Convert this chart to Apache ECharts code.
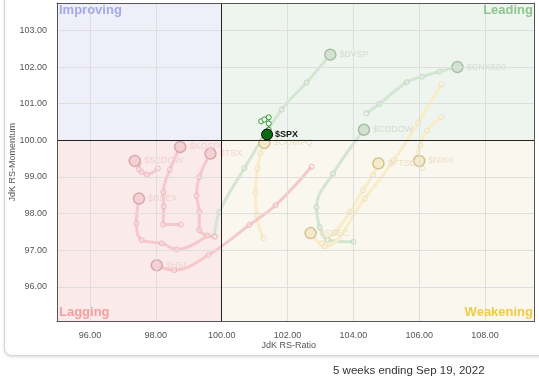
<!DOCTYPE html>
<html>
<head>
<meta charset="utf-8">
<script src="https://cdn.jsdelivr.net/npm/echarts@6/dist/echarts.min.js"></script>
<style>html,body{margin:0;padding:0;background:#fff;}#c{width:539px;height:383px;}</style>
</head>
<body>
<div id="c"></div>
<script>
// ---- data (JdK RS-Ratio, JdK RS-Momentum), oldest -> newest (head last) ----
const xTicks = [96, 98, 100, 102, 104, 106, 108];
const yTicks = [96, 97, 98, 99, 100, 101, 102, 103];

const spxRatio = [101.20, 101.30, 101.43, 101.43, 101.43, 101.38];
const spxMom   = [100.52, 100.57, 100.63, 100.46, 100.29, 100.16];

const bvspRatio = [99.78, 99.93, 100.69, 101.82, 102.58, 103.30];
const bvspMom   = [97.38, 98.04, 99.24, 100.84, 101.58, 102.34];

const cnxRatio = [104.40, 104.79, 105.62, 106.08, 106.62, 107.16];
const cnxMom   = [100.74, 101.00, 101.59, 101.74, 101.88, 102.00];

const cddowRatio = [104.00, 103.22, 102.98, 102.88, 103.38, 104.32];
const cddowMom   = [97.23, 97.28, 97.63, 98.18, 99.09, 100.29];

const ssecRatio = [106.67, 105.97, 105.23, 104.35, 103.13, 102.70];
const ssecMom   = [101.53, 100.49, 99.46, 98.42, 97.11, 97.47];

const nikkRatio = [106.67, 106.24, 106.03, 105.91, 106.09, 106.00];
const nikkMom   = [100.63, 100.27, 99.86, 99.51, 99.24, 99.44];

const ftseRatio = [103.04, 103.44, 103.89, 104.29, 104.59, 104.76];
const ftseMom   = [97.19, 97.49, 98.04, 98.64, 99.05, 99.37];

const compqRatio = [101.27, 101.06, 101.03, 101.09, 101.18, 101.30];
const compqMom   = [97.33, 97.96, 98.58, 99.24, 99.65, 99.93];

const kospiRatio = [98.76, 98.22, 98.24, 98.23, 98.43, 98.74];
const kospiMom   = [97.70, 97.70, 98.20, 98.59, 99.20, 99.82];

const tsxRatio = [99.79, 99.32, 99.32, 99.24, 99.32, 99.66];
const tsxMom   = [97.37, 97.55, 98.05, 98.49, 99.00, 99.64];

const sedowRatio = [98.06, 97.73, 97.57, 97.48, 97.48, 97.36];
const sedowMom   = [99.23, 99.07, 99.14, 99.21, 99.37, 99.44];

const bsexRatio = [99.57, 98.64, 98.18, 97.57, 97.41, 97.49];
const bsexMom   = [97.40, 97.02, 97.19, 97.28, 97.73, 98.41];

const hsiRatio = [102.73, 101.64, 100.84, 99.60, 98.56, 98.03];
const hsiMom   = [99.28, 98.23, 97.69, 96.87, 96.46, 96.59];

const faded = [
  {name: '$BVSP',  r: bvspRatio,  m: bvspMom,  q: 'lead'},
  {name: '$CNX500',r: cnxRatio,   m: cnxMom,   q: 'lead'},
  {name: '$CDDOW', r: cddowRatio, m: cddowMom, q: 'lead'},
  {name: '$SSEC',  r: ssecRatio,  m: ssecMom,  q: 'weak'},
  {name: '$NIKK',  r: nikkRatio,  m: nikkMom,  q: 'weak'},
  {name: '$FTSE',  r: ftseRatio,  m: ftseMom,  q: 'weak'},
  {name: '$COMPQ', r: compqRatio, m: compqMom, q: 'weak'},
  {name: '$KOSPI', r: kospiRatio, m: kospiMom, q: 'lag'},
  {name: '$TSX',   r: tsxRatio,   m: tsxMom,   q: 'lag'},
  {name: '$SEDOW', r: sedowRatio, m: sedowMom, q: 'lag'},
  {name: '$BSEX',  r: bsexRatio,  m: bsexMom,  q: 'lag'},
  {name: '$HSI',   r: hsiRatio,   m: hsiMom,   q: 'lag'}
];

const pal = {
  lead: {line: '#d3e6d1', dot: '#c3d8c1', headFill: '#d2e2d1', headBorder: '#a8bda8', label: '#cfdecf'},
  weak: {line: '#f9ecc6', dot: '#eee2b9', headFill: '#f5eacb', headBorder: '#d3c190', label: '#ebe0c2'},
  lag:  {line: '#f6c8cb', dot: '#efb8bd', headFill: '#f4d0d3', headBorder: '#d9a7ad', label: '#f2cfd0'}
};

function buildData(r, m, head) {
  return r.map((x, i) => {
    const it = {value: [x, m[i]]};
    if (i === r.length - 1) Object.assign(it, head);
    return it;
  });
}

const series = [];
const gridLines = [];
xTicks.forEach(v => { if (v !== 100) gridLines.push({xAxis: v}); });
yTicks.forEach(v => { if (v !== 100) gridLines.push({yAxis: v}); });
series.push({
  type: 'line', data: [], silent: true, z: 1,
  markArea: {
    silent: true,
    data: [
      [{coord: [95, 100], itemStyle: {color: '#eeeff9'}}, {coord: [100, 103.75]}],
      [{coord: [100, 100], itemStyle: {color: '#eef4ee'}}, {coord: [109.5, 103.75]}],
      [{coord: [95, 95.05], itemStyle: {color: '#fbeaea'}}, {coord: [100, 100]}],
      [{coord: [100, 95.05], itemStyle: {color: '#faf7ef'}}, {coord: [109.5, 100]}]
    ]
  },
  markLine: {
    silent: true, symbol: ['none', 'none'], label: {show: false}, animation: false,
    lineStyle: {color: '#dedede', width: 1, type: 'solid'},
    data: gridLines
  }
});
series.push({
  type: 'line', data: [], silent: true, z: 3,
  markLine: {
    silent: true, symbol: ['none', 'none'], label: {show: false}, animation: false,
    lineStyle: {color: '#222', width: 1, type: 'solid'},
    data: [{xAxis: 100}, {yAxis: 100}]
  }
});

faded.forEach(s => {
  const p = pal[s.q];
  series.push({
    type: 'line', name: s.name, smooth: 0.4, z: 4, silent: true,
    symbol: 'circle', symbolSize: 5, showAllSymbol: true,
    lineStyle: {color: p.line, width: 3},
    itemStyle: {color: 'rgba(255,255,255,0.25)', borderColor: p.dot, borderWidth: 1},
    data: buildData(s.r, s.m, {
      symbolSize: 11,
      itemStyle: {color: p.headFill, borderColor: p.headBorder, borderWidth: 1.5},
      label: {show: true, position: 'right', distance: 3, formatter: s.name,
              color: p.label, fontSize: 9, fontFamily: 'Liberation Sans, Arial, sans-serif'}
    })
  });
});

series.push({
  type: 'line', name: '$SPX', smooth: 0.4, z: 10, silent: true,
  symbol: 'circle', symbolSize: 5, showAllSymbol: true,
  lineStyle: {color: '#2f9a2f', width: 1},
  itemStyle: {color: '#ffffff', borderColor: '#2f9a2f', borderWidth: 1},
  data: buildData(spxRatio, spxMom, {
    symbolSize: 11,
    itemStyle: {color: '#0a6a12', borderColor: '#000', borderWidth: 1},
    label: {show: true, position: 'right', distance: 2, formatter: '$SPX',
            color: '#111', fontSize: 9, fontWeight: 'bold', fontFamily: 'Liberation Sans, Arial, sans-serif'}
  })
});

const font = 'Liberation Sans, Arial, sans-serif';
const axisLbl = {color: '#555', fontSize: 9, fontFamily: font};

const chart = echarts.init(document.getElementById('c'), null, {renderer: 'canvas'});
chart.setOption({
  animation: false,
  backgroundColor: '#ffffff',
  grid: {left: 57, right: 4.5, top: 3, bottom: 61.3, containLabel: false, outerBoundsMode: 'none'},
  xAxis: [{
    type: 'value', min: 95, max: 109.5, z: 10,
    name: 'JdK RS-Ratio', nameLocation: 'middle', nameGap: 19, nameMoveOverlap: false,
    nameTextStyle: {color: '#555', fontSize: 9, fontFamily: font, padding: [0, 14, 0, 0]},
    axisLine: {show: true, onZero: false, lineStyle: {color: '#555'}},
    axisTick: {show: false},
    splitLine: {show: false},
    axisLabel: Object.assign({margin: 9, customValues: xTicks, formatter: v => v.toFixed(2)}, axisLbl)
  }, {
    type: 'value', position: 'top', min: 95, max: 109.5, z: 10,
    axisLine: {show: true, onZero: false, lineStyle: {color: '#555'}},
    axisTick: {show: false}, axisLabel: {show: false}, splitLine: {show: false}
  }],
  yAxis: [{
    type: 'value', min: 95.05, max: 103.75, z: 10,
    name: 'JdK RS-Momentum', nameLocation: 'middle', nameGap: 40, nameMoveOverlap: false,
    nameTextStyle: {color: '#555', fontSize: 9, fontFamily: font},
    axisLine: {show: true, onZero: false, lineStyle: {color: '#555'}},
    axisTick: {show: false},
    splitLine: {show: false},
    axisLabel: Object.assign({margin: 10, customValues: yTicks, formatter: v => v.toFixed(2)}, axisLbl)
  }, {
    type: 'value', position: 'right', min: 95.05, max: 103.75, z: 10,
    axisLine: {show: true, onZero: false, lineStyle: {color: '#555'}},
    axisTick: {show: false}, axisLabel: {show: false}, splitLine: {show: false}
  }],
  graphic: [
    {type: 'rect', z: -10, silent: true,
     shape: {x: 4.5, y: -20, width: 600, height: 375.5, r: 7},
     style: {fill: '#ffffff', stroke: '#d6d6d6', lineWidth: 1, shadowBlur: 3, shadowColor: 'rgba(0,0,0,0.12)', shadowOffsetY: 1}},
    {type: 'text', z: 20, silent: true, left: 59, top: 4,
     style: {text: 'Improving', fill: '#a5a8e4', font: 'bold 13px ' + font}},
    {type: 'text', z: 20, silent: true, right: 6, top: 4,
     style: {text: 'Leading', fill: '#8fc58f', font: 'bold 13px ' + font}},
    {type: 'text', z: 20, silent: true, left: 59, top: 306,
     style: {text: 'Lagging', fill: '#f2a0a0', font: 'bold 13px ' + font}},
    {type: 'text', z: 20, silent: true, right: 6, top: 306,
     style: {text: 'Weakening', fill: '#f0cb45', font: 'bold 13px ' + font}},
    {type: 'text', z: 20, silent: true, left: 333, top: 365,
     style: {text: '5 weeks ending Sep 19, 2022', fill: '#333', font: '11.5px ' + font}}
  ],
  series: series
});
</script>
</body>
</html>
